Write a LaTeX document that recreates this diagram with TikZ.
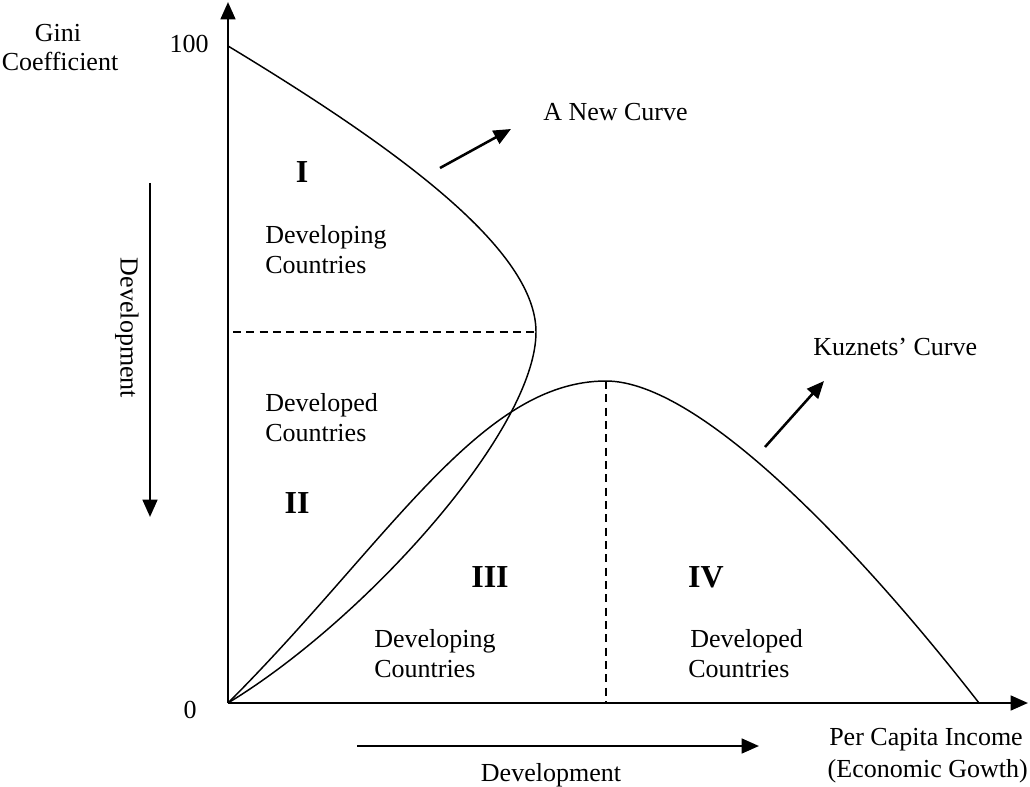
\documentclass[tikz,border=0pt]{standalone}
\usepackage{fontspec}
\setmainfont{Liberation Serif}
\usetikzlibrary{arrows.meta}
\begin{document}
\begin{tikzpicture}[x=0.75pt,y=-0.75pt,
  txt/.style={inner sep=0pt,font=\fontsize{19.5pt}{22.5pt}\selectfont},
  num/.style={inner sep=0pt,font=\fontsize{24pt}{28pt}\selectfont\bfseries},
  axis/.style={line width=1.9pt,-{Triangle[length=13pt,width=11pt]}},
  pointer/.style={line width=1.9pt,-{Triangle[length=13pt,width=11pt]}},
  curve/.style={line width=1.1pt},
  guide/.style={line width=1.1pt,dash pattern=on 6pt off 4pt}]
\useasboundingbox (0,0) rectangle (1030,787);
% axes
\coordinate (O) at (228,703);
\coordinate (ytop) at (228,2);
\coordinate (xend) at (1028,703);
\draw[axis] (O) -- (ytop);
\draw[axis] (O) -- (xend);
% new curve
\coordinate (nctop) at (228,46);
\coordinate (vertex) at (536,332);
\draw[curve] (nctop) .. controls (400,150) and (536,250) .. (vertex)
  .. controls (536,430) and (365,620) .. (O);
% Kuznets curve
\coordinate (peak) at (606,381);
\coordinate (kend) at (979,703);
\draw[curve] (O) .. controls (388,543) and (480,381) .. (peak)
  .. controls (700,381) and (860,550) .. (kend);
% dashed guides
\coordinate (dl) at (233,332);
\coordinate (dbot) at (606,703);
\draw[guide] (dl) -- (vertex);
\draw[guide] (peak) -- (dbot);
% pointer arrows
\coordinate (na1) at (440,168);
\coordinate (na2) at (511,129);
\coordinate (ka1) at (765,447);
\coordinate (ka2) at (824,381);
\draw[pointer] (na1) -- (na2);
\draw[pointer] (ka1) -- (ka2);
% development arrows
\coordinate (dv1) at (150,183);
\coordinate (dv2) at (150,517);
\coordinate (dh1) at (357,746);
\coordinate (dh2) at (759,746);
\draw[pointer] (dv1) -- (dv2);
\draw[pointer] (dh1) -- (dh2);
% labels
\node[txt,anchor=base] (gini) at (58,42) {Gini};
\node[txt,anchor=base] (coef) at (60,71) {Coefficient};
\node[txt,anchor=base] (hundred) at (189,53) {100};
\node[txt,anchor=base] (zero) at (190,718) {0};
\node[txt,anchor=base west] (newlab) at (543,121) {A New Curve};
\node[txt,anchor=base west] (kuzlab) at (813,355) {Kuznets’ Curve};
\node[num,anchor=base] (n1) at (302,183) {I};
\node[num,anchor=base] (n2) at (297,513) {II};
\node[num,anchor=base] (n3) at (490,587) {III};
\node[num,anchor=base] (n4) at (706,587) {IV};
\node[txt,anchor=base west] (d1a) at (265,244) {Developing};
\node[txt,anchor=base west] (d1b) at (265,274) {Countries};
\node[txt,anchor=base west] (d2a) at (265,411) {Developed};
\node[txt,anchor=base west] (d2b) at (265,441) {Countries};
\node[txt,anchor=base west] (d3a) at (374,647) {Developing};
\node[txt,anchor=base west] (d3b) at (374,677) {Countries};
\node[txt,anchor=base west] (d4a) at (690,647) {Developed};
\node[txt,anchor=base west] (d4b) at (688,677) {Countries};
\node[txt,anchor=base east] (pci) at (1023,745) {Per Capita Income};
\node[txt,anchor=base east] (eg) at (1028,777) {(Economic Gowth)};
\node[txt,anchor=base] (devh) at (551,781) {Development};
\node[txt,rotate=-90] (devv) at (127,328) {Development};
\end{tikzpicture}
\end{document}
